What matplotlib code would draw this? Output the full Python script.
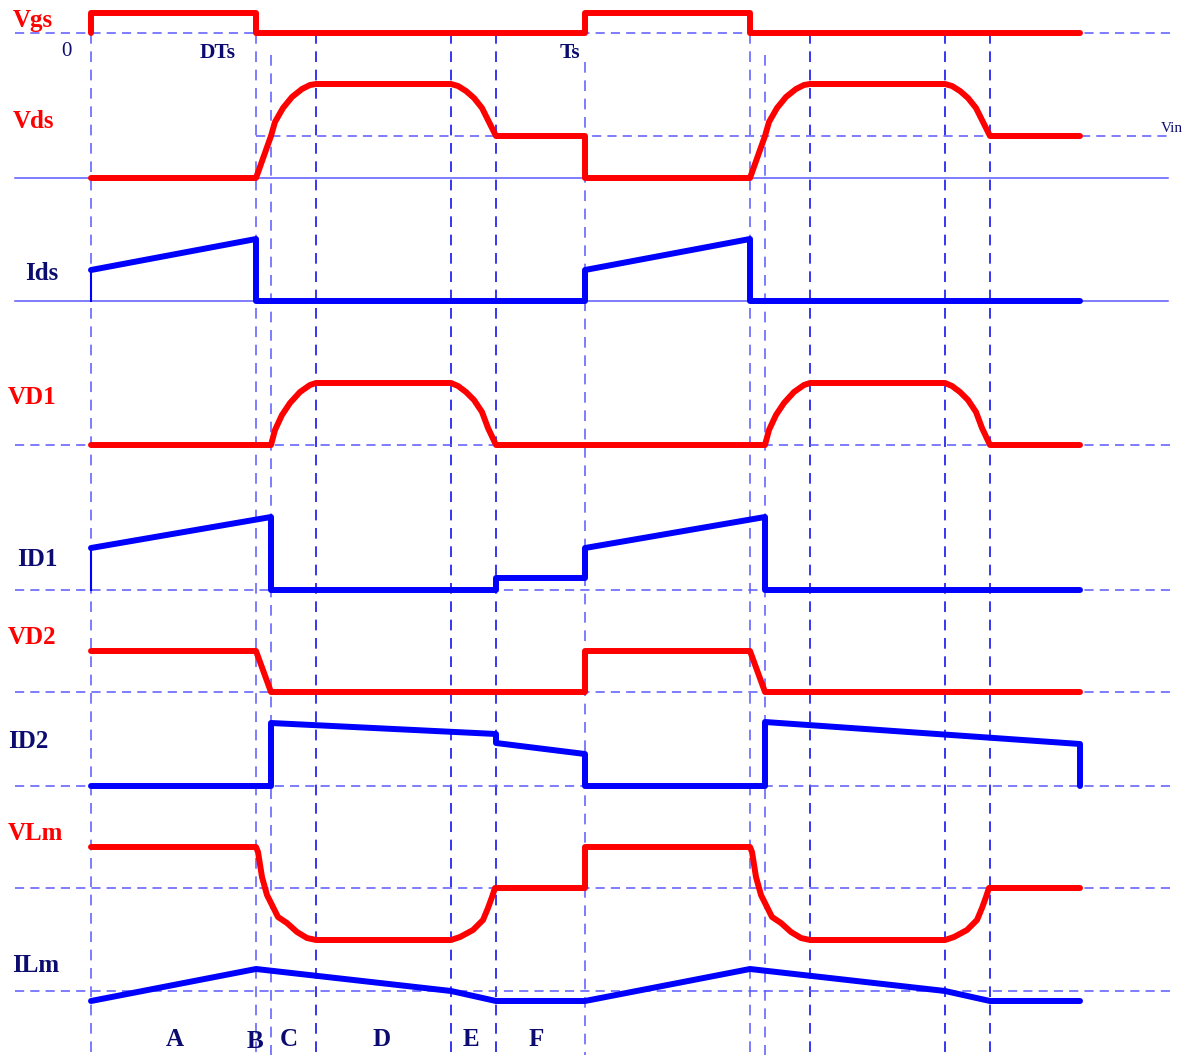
import numpy as np
import matplotlib.pyplot as plt

RED = '#ff0000'
BLUE = '#0000ff'
NAVY = '#0c0c70'
GRID = '#5a5aff'

# time markers (px), 0 .. DTs .. Ts and two periods
t_marks = [91, 256, 271, 316, 451, 496, 585, 750, 765, 810, 945, 990]
t_marks_top = [33, 33, 55, 33, 33, 33, 62, 33, 55, 33, 33, 33]
t_dark = [False, False, False, True, True, True, False, False, False, True, True, True]

# reference levels (px)
h_dashed = [33, 136, 445, 590, 692, 786, 888, 991]
h_dashed_x0 = [15, 256, 15, 15, 15, 15, 15, 15]
h_solid = [178, 301]

# waveforms
vgs_t = [91, 91, 256, 256, 585, 585, 750, 750, 1080]
vgs_v = [33, 13, 13, 33, 33, 13, 13, 33, 33]

vds_t = [91, 256, 271, 275, 283, 292, 302, 310, 316, 451, 458, 466, 474, 482, 488, 496,
         585, 585, 750, 765, 769, 777, 786, 796, 804, 810, 945, 952, 960, 968, 976, 982, 990, 1080]
vds_v = [178, 178, 136, 122, 108, 97, 89, 85, 84, 84, 86, 91, 98, 108, 120, 136,
         136, 178, 178, 136, 122, 108, 97, 89, 85, 84, 84, 86, 91, 98, 108, 120, 136, 136]

ids_t = [91, 256, 256, 585, 585, 750, 750, 1080]
ids_v = [270, 239, 301, 301, 270, 239, 301, 301]

vd1_t = [91, 271, 275, 282, 290, 300, 310, 316, 451, 458, 466, 474, 482, 488, 496,
         765, 769, 776, 784, 794, 804, 810, 945, 952, 960, 968, 976, 982, 990, 1080]
vd1_v = [445, 445, 430, 415, 403, 392, 385, 383, 383, 386, 392, 400, 412, 428, 445,
         445, 430, 415, 403, 392, 385, 383, 383, 386, 392, 400, 412, 428, 445, 445]

id1_t = [91, 271, 271, 496, 496, 585, 585, 765, 765, 1080]
id1_v = [548, 517, 590, 590, 578, 578, 548, 517, 590, 590]

vd2_t = [91, 256, 271, 585, 585, 750, 765, 1080]
vd2_v = [651, 651, 692, 692, 651, 651, 692, 692]

id2_t = [91, 271, 271, 496, 496, 585, 585, 765, 765, 1080, 1080]
id2_v = [786, 786, 723, 734, 743, 754, 786, 786, 722, 744, 786]

vlm_t = [91, 256, 258, 262, 267, 278, 287, 297, 307, 316, 451, 460, 473, 483, 488, 492, 495,
         585, 585, 750, 752, 756, 761, 772, 781, 791, 801, 810, 945, 954, 967, 977, 982, 986, 989, 1080]
vlm_v = [847, 847, 852, 877, 895, 917, 923, 932, 938, 940, 940, 937, 930, 920, 908, 897, 888,
         888, 847, 847, 852, 877, 895, 917, 923, 932, 938, 940, 940, 937, 930, 920, 908, 897, 888, 888]

ilm_t = [91, 256, 451, 496, 585, 750, 945, 990, 1080]
ilm_v = [1001, 969, 991, 1001, 1001, 969, 991, 1001, 1001]

labels = ['Vgs', 'Vds', 'Ids', 'VD1', 'ID1', 'VD2', 'ID2', 'VLm', 'ILm']
label_x = [13, 13, 25, 8, 17, 8, 8, 8, 12]
label_y = [20, 121, 273, 398, 559, 637, 741, 833, 965]
label_col = [RED, RED, NAVY, RED, NAVY, RED, NAVY, RED, NAVY]

phases = ['A', 'B', 'C', 'D', 'E', 'F']
phase_x = [175, 255, 289, 382, 471, 536]
phase_y = [1040, 1042, 1039, 1039, 1039, 1039]

fig = plt.figure(figsize=(11.95, 10.55), dpi=100)
ax = fig.add_axes([0, 0, 1, 1])
ax.set_xlim(0, 1195)
ax.set_ylim(1055, 0)
ax.axis('off')

for x, top, dark in zip(t_marks, t_marks_top, t_dark):
    ax.plot([x, x], [top, 1055], color='#0000ee' if dark else GRID,
            lw=1.1, ls=(0, (7, 5)), zorder=1)
for y, x0 in zip(h_dashed, h_dashed_x0):
    ax.plot([x0, 1172], [y, y], color=GRID, lw=1.1, ls=(0, (6, 4)), zorder=1)
for y in h_solid:
    ax.plot([15, 1168], [y, y], color=GRID, lw=1.1, zorder=1)

lw = 4.3
for t, v, c in [(vgs_t, vgs_v, RED), (vds_t, vds_v, RED), (ids_t, ids_v, BLUE),
                (vd1_t, vd1_v, RED), (id1_t, id1_v, BLUE), (vd2_t, vd2_v, RED),
                (id2_t, id2_v, BLUE), (vlm_t, vlm_v, RED), (ilm_t, ilm_v, BLUE)]:
    ax.plot(t, v, color=c, lw=lw, solid_capstyle='round', solid_joinstyle='round', zorder=3)

# thin start edges of Ids and ID1
ax.plot([91, 91], [ids_v[0], h_solid[1]], color=BLUE, lw=1.5, zorder=3)
ax.plot([91, 91], [id1_v[0], h_dashed[3]], color=BLUE, lw=1.5, zorder=3)

font = 'Liberation Serif'
for s, x, y, c in zip(labels, label_x, label_y, label_col):
    ax.text(x, y, s, color=c, fontsize=18, fontweight='bold', family=font,
            ha='left', va='center')

ax.text(66, 52, '0', color=NAVY, fontsize=15, family=font, ha='center', va='center')
ax.text(218, 53, 'DTs', color=NAVY, fontsize=15.5, fontweight='bold', family=font,
        ha='center', va='center')
ax.text(570, 53, 'Ts', color=NAVY, fontsize=15.5, fontweight='bold', family=font,
        ha='center', va='center')
ax.text(1172, 128, 'Vin', color=NAVY, fontsize=11, family=font, ha='center', va='center')

for s, x, y in zip(phases, phase_x, phase_y):
    ax.text(x, y, s, color=NAVY, fontsize=18, fontweight='bold', family=font,
            ha='center', va='center')

fig.savefig('out.png', dpi=100)
